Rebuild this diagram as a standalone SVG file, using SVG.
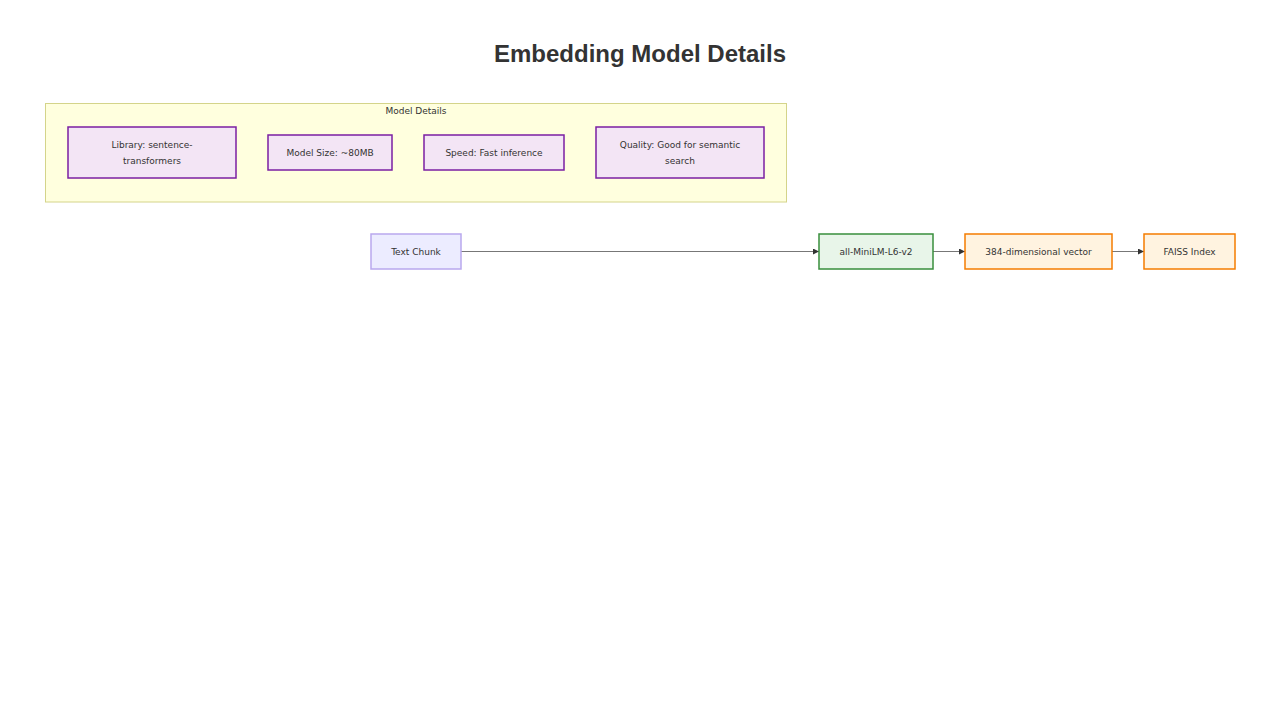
<svg xmlns="http://www.w3.org/2000/svg" width="1280" height="720" viewBox="0 0 1280 720">
<style>
text{font-family:"DejaVu Sans",Verdana,sans-serif;font-size:9px;fill:#333;text-anchor:middle}
.title{font-family:"Liberation Sans",Arial,sans-serif;font-size:24px;font-weight:bold;fill:#333}
.cluster{fill:#ffffde;stroke:#d4d48a;stroke-width:1}
.detail{fill:#f3e5f5;stroke:#7b1fa2;stroke-width:1.5}
.default{fill:#ececff;stroke:#b9a8ee;stroke-width:1.5}
.model{fill:#e8f5e9;stroke:#388e3c;stroke-width:1.5}
.out{fill:#fff3e0;stroke:#f57c00;stroke-width:1.5}
.edge{stroke:#777;stroke-width:1;fill:none}
</style>
<defs>
<marker id="arrow" viewBox="0 0 10 10" refX="10" refY="5" markerWidth="6" markerHeight="6" markerUnits="userSpaceOnUse" orient="auto">
<path d="M0,0 L10,5 L0,10 z" fill="#333"/>
</marker>
</defs>
<rect width="1280" height="720" fill="#fff"/>
<text class="title" x="640" y="62">Embedding Model Details</text>
<g id="cluster-model-details">
<rect class="cluster" x="45.5" y="103.5" width="741" height="98.5"/>
<text x="416" y="114">Model Details</text>
</g>
<g id="node-library">
<rect class="detail" x="68" y="127" width="168" height="51"/>
<text x="152" y="148">Library: sentence-</text>
<text x="152" y="164">transformers</text>
</g>
<g id="node-size">
<rect class="detail" x="268" y="135" width="124" height="35"/>
<text x="330" y="156">Model Size: ~80MB</text>
</g>
<g id="node-speed">
<rect class="detail" x="424" y="135" width="140" height="35"/>
<text x="494" y="156">Speed: Fast inference</text>
</g>
<g id="node-quality">
<rect class="detail" x="596" y="127" width="168" height="51"/>
<text x="680" y="148">Quality: Good for semantic</text>
<text x="680" y="164">search</text>
</g>
<g id="connectors">
<path class="edge" d="M461,251.5 L819,251.5" marker-end="url(#arrow)"/>
<path class="edge" d="M933,251.5 L965,251.5" marker-end="url(#arrow)"/>
<path class="edge" d="M1112,251.5 L1144,251.5" marker-end="url(#arrow)"/>
</g>
<g id="node-text-chunk">
<rect class="default" x="371" y="234" width="90" height="35"/>
<text x="416" y="255">Text Chunk</text>
</g>
<g id="node-model">
<rect class="model" x="819" y="234" width="114" height="35"/>
<text x="876" y="255">all-MiniLM-L6-v2</text>
</g>
<g id="node-vector">
<rect class="out" x="965" y="234" width="147" height="35"/>
<text x="1038.5" y="255">384-dimensional vector</text>
</g>
<g id="node-faiss">
<rect class="out" x="1144" y="234" width="91" height="35"/>
<text x="1189.5" y="255">FAISS Index</text>
</g>
</svg>
